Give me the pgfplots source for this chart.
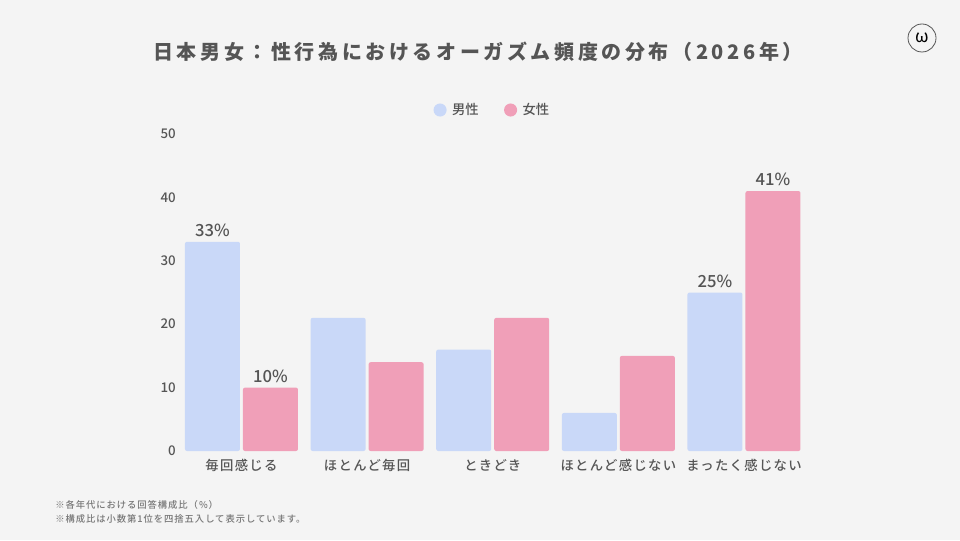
\documentclass[border=0pt]{standalone}
\usepackage{fontspec}
\setmainfont{Noto Sans CJK JP}
\newfontfamily\titlefont[LetterSpace=18]{Noto Sans CJK JP}
\newfontfamily\medfont{Noto Sans CJK JP Medium}
\newfontfamily\medspaced[LetterSpace=10]{Noto Sans CJK JP Medium}
\usepackage{pgfplots}
\pgfplotsset{compat=1.18}
\usepackage{pgfplotstable}
\definecolor{bg}{HTML}{F4F4F4}
\definecolor{male}{HTML}{C9D8F8}
\definecolor{female}{HTML}{F09FB8}
\definecolor{txt}{HTML}{555555}
\definecolor{note}{HTML}{777777}
\pgfplotstableread{
x m f ml fl
0 33 10 33\% 10\%
1 21 14 {} {}
2 16 21 {} {}
3 6 15 {} {}
4 25 41 25\% 41\%
}\data
\begin{document}
\begin{tikzpicture}
\fill[bg] (0,0) rectangle (720pt,405pt);
\node[font=\titlefont\bfseries\fontsize{15}{18}\selectfont, text=txt] at (358.5pt,366pt) {日本男女：性行為におけるオーガズム頻度の分布（2026年）};
\draw[txt, line width=0.6pt] (691.5pt,376.5pt) circle (10.5pt);
\node[font=\fontsize{13}{13}\selectfont, text=black] at (691.5pt,377pt) {ω};
\node[anchor=west, font=\medspaced\fontsize{7}{8}\selectfont, text=note, inner sep=0pt] at (41.25pt,26.25pt) {※各年代における回答構成比（\%）};
\node[anchor=west, font=\medspaced\fontsize{7}{8}\selectfont, text=note, inner sep=0pt] at (41.25pt,15.75pt) {※構成比は小数第1位を四捨五入して表示しています。};
\begin{axis}[
  at={(134pt,66.75pt)}, anchor=south west,
  scale only axis, width=471.1pt, height=237.75pt,
  xmin=-0.5, xmax=4.5, ymin=0, ymax=50,
  ybar=2.25pt, bar width=41.25pt,
  axis line style={draw=none}, major tick length=0pt,
  xtick={0,1,2,3,4},
  xticklabels={毎回感じる,ほとんど毎回,ときどき,ほとんど感じない,まったく感じない},
  ytick={0,10,20,30,40,50},
  /pgf/number format/assume math mode=true,
  xticklabel style={font=\medspaced\fontsize{10}{12}\selectfont, text=txt, anchor=north, inner sep=0pt, yshift=-6pt},
  yticklabel style={font=\medfont\fontsize{10}{10}\selectfont, text=txt, anchor=east, inner sep=0pt, xshift=-2pt},
  point meta=explicit symbolic,
  nodes near coords,
  every node near coord/.append style={font=\medfont\fontsize{12.5}{14}\selectfont, text=txt, inner sep=3.5pt},
  legend style={at={(0.5,1.0757)}, anchor=center, draw=none, fill=none, legend columns=2,
    font=\medfont\fontsize{10}{12}\selectfont, text=txt,
    /tikz/every even column/.append style={column sep=17pt}},
  legend image code/.code={\fill[#1, draw=none] (0pt,0pt) circle (4.9pt); \path (7pt,0pt);},
]
\addplot[fill=male, draw=none, rounded corners=1.5pt] table[x=x, y=m, meta=ml] {\data};
\addplot[fill=female, draw=none, rounded corners=1.5pt] table[x=x, y=f, meta=fl] {\data};
\legend{男性,女性}
\end{axis}
\end{tikzpicture}
\end{document}
